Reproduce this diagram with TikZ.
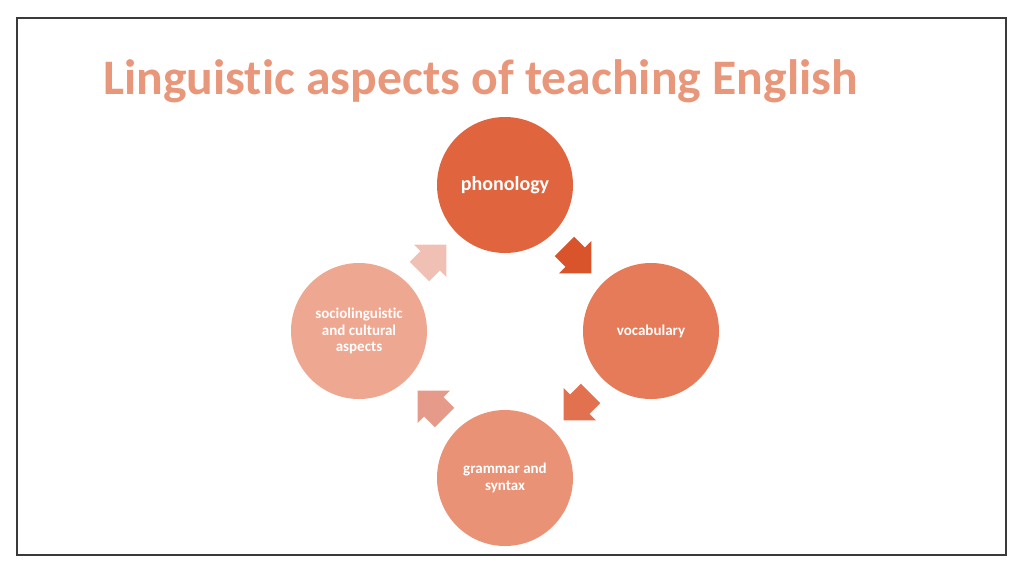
\documentclass[tikz,border=0pt]{standalone}
\usepackage{fontspec}
\setmainfont[Ligatures=CommonOff]{Carlito}
\usetikzlibrary{shapes.arrows}
\definecolor{titlecol}{HTML}{E9977A}
\definecolor{framecol}{HTML}{3A3A3A}
\definecolor{cP}{HTML}{E0643D}
\definecolor{cV}{HTML}{E57B59}
\definecolor{cG}{HTML}{EA9275}
\definecolor{cS}{HTML}{EEA790}
\definecolor{aPV}{HTML}{D9542A}
\definecolor{aVG}{HTML}{E2714F}
\definecolor{aGS}{HTML}{E69A89}
\definecolor{aSP}{HTML}{F1C0B5}
\begin{document}
\begin{tikzpicture}[x=1pt,y=-1pt,
	topic/.style={circle, minimum size=136pt, inner sep=2pt, text=white, align=center,
		font=\fontsize{15}{16.5}\selectfont\bfseries},
	turn/.style={single arrow, minimum height=38pt, single arrow head extend=9pt,
		inner sep=0pt, anchor=center}]
			\def\shaft{\rule{0pt}{27pt}}
			\useasboundingbox (0,0) rectangle (1024,574);
			\draw [framecol, line width=1.2pt] (17,18) rectangle (1006,555);
			\node [anchor=base west, text=titlecol, inner sep=0pt,
				font=\fontsize{49.7}{54}\selectfont\bfseries] (T) at (103,94) {Linguistic aspects of teaching English};
			\node [topic, fill=cP, font=\fontsize{20}{22}\selectfont\bfseries] (P) at (505,185) {phonology};
			\node [topic, fill=cV] (V) at (651,331) {vocabulary};
			\node [topic, fill=cG] (G) at (505,478) {grammar and\\syntax};
			\node [topic, fill=cS] (S) at (359,331) {sociolinguistic\\and cultural\\aspects};
			\node [turn, fill=aPV, rotate=-45] (PV) at (573,255) {\shaft};
			\node [turn, fill=aVG, rotate=-135] (VG) at (582,402) {\shaft};
			\node [turn, fill=aGS, rotate=135] (GS) at (436,409) {\shaft};
			\node [turn, fill=aSP, rotate=45] (SP) at (428,263) {\shaft};
		\end{tikzpicture}
\end{document}
